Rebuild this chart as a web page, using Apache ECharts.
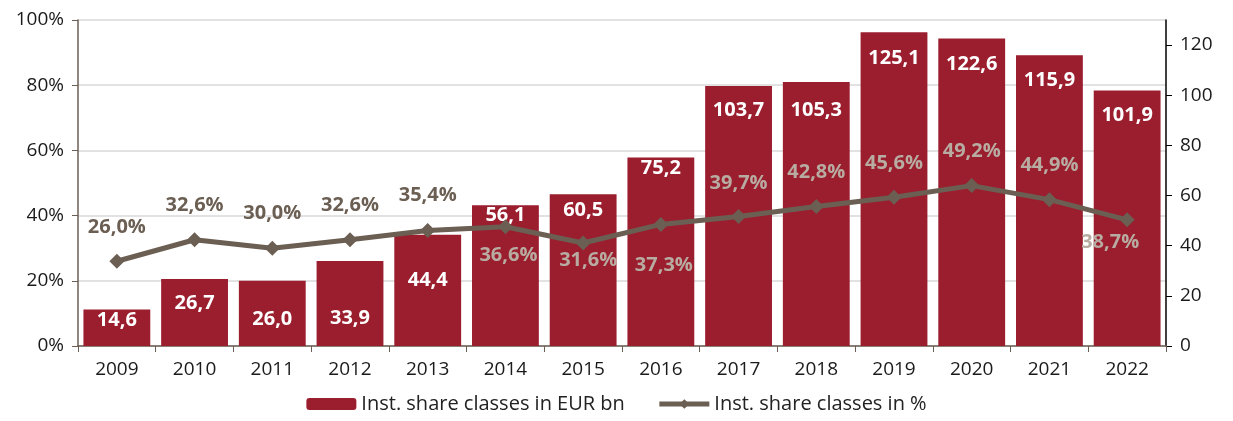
<!DOCTYPE html>
<html>
<head>
<meta charset="utf-8">
<script src="https://cdn.jsdelivr.net/npm/echarts@6/dist/echarts.min.js"></script>
<style>
html,body{margin:0;padding:0;background:#fff;}
#chart{width:1233px;height:421px;}
</style>
</head>
<body>
<div id="chart"></div>
<script>
var years = ['2009','2010','2011','2012','2013','2014','2015','2016','2017','2018','2019','2020','2021','2022'];
var eurBn = [14.6, 26.7, 26.0, 33.9, 44.4, 56.1, 60.5, 75.2, 103.7, 105.3, 125.1, 122.6, 115.9, 101.9];
var sharePct = [26.0, 32.6, 30.0, 32.6, 35.4, 36.6, 31.6, 37.3, 39.7, 42.8, 45.6, 49.2, 44.9, 38.7];

// label placement, picked to match the original
var barLabelGap = [1, 14, 28, 47, 36, 0, 6, 1, 14, 18, 16, 16, 15, 15];
var lineLabelOffset = [[0,-34],[0,-34],[0,-35],[0,-34],[0,-35],[3,29],[5,17],[3,41],[0,-33],[0,-34],[0,-34],[0,-34],[0,-34],[-17,22]];

var fmt = function(v){
	return v.toFixed(1).replace('.', ',');
};
var FONT = 'Open Sans';
var DARK = '#6b5e52';
var LIGHT = '#b8aca2';

var barData = [];
eurBn.forEach(function(v, i){
	barData.push({
		value: v,
		label: {distance: barLabelGap[i]}
	});
});
var lineData = [];
sharePct.forEach(function(v, i){
	var inside = eurBn[i] / 130 * 100 > v;
	lineData.push({
		value: v,
		label: {
			offset: lineLabelOffset[i],
			color: inside ? LIGHT : DARK
		}
	});
});

var myChart = echarts.init(document.getElementById('chart'));
var option = {
	animation: false,
	textStyle: {fontFamily: FONT},
	grid: {left: 78, right: 67, top: 20, bottom: 75},
	legend: {
		bottom: 2,
		left: 'center',
		itemWidth: 50,
		itemHeight: 12,
		itemGap: 32,
		lineStyle: {width: 5},
		textStyle: {fontSize: 20, color: '#222', fontFamily: FONT},
		data: ['Inst. share classes in EUR bn', 'Inst. share classes in %']
	},
	xAxis: [{
		type: 'category',
		data: years,
		axisLine: {lineStyle: {color: DARK, width: 1.5}},
		axisTick: {show: true, length: 6, lineStyle: {color: DARK}},
		axisLabel: {color: '#1a1a1a', fontSize: 19, margin: 14, fontFamily: FONT}
	}],
	yAxis: [{
		type: 'value',
		min: 0,
		max: 100,
		interval: 20,
		axisLine: {show: true, lineStyle: {color: DARK, width: 1.5}},
		axisTick: {show: true, length: 6, lineStyle: {color: DARK}},
		axisLabel: {formatter: '{value}%', color: '#1a1a1a', fontSize: 19, margin: 14, fontFamily: FONT},
		splitLine: {lineStyle: {color: '#d9d9d9', width: 1.5}}
	}, {
		type: 'value',
		min: 0,
		max: 130,
		interval: 20,
		axisLine: {show: true, lineStyle: {color: '#000', width: 1.5}},
		axisTick: {show: true, length: 6, lineStyle: {color: '#000'}},
		axisLabel: {showMaxLabel: false, color: '#1a1a1a', fontSize: 19, margin: 14, fontFamily: FONT},
		splitLine: {show: false}
	}],
	series: [{
		name: 'Inst. share classes in EUR bn',
		type: 'bar',
		yAxisIndex: 1,
		barCategoryGap: '14%',
		data: barData,
		itemStyle: {color: '#9b1e2e'},
		label: {
			show: true,
			position: 'insideTop',
			color: '#fff',
			fontWeight: 'bold',
			fontSize: 20,
			fontFamily: FONT,
			formatter: function(p){ return fmt(p.value); }
		}
	}, {
		name: 'Inst. share classes in %',
		type: 'line',
		yAxisIndex: 0,
		data: lineData,
		symbol: 'diamond',
		symbolSize: 15,
		lineStyle: {color: DARK, width: 5},
		itemStyle: {color: DARK},
		label: {
			show: true,
			position: 'inside',
			fontWeight: 'bold',
			fontSize: 20,
			fontFamily: FONT,
			formatter: function(p){ return fmt(p.value) + '%'; }
		},
		z: 3
	}]
};
myChart.setOption(option);
window.onresize = function(){
	myChart.resize();
};
</script>
</body>
</html>
